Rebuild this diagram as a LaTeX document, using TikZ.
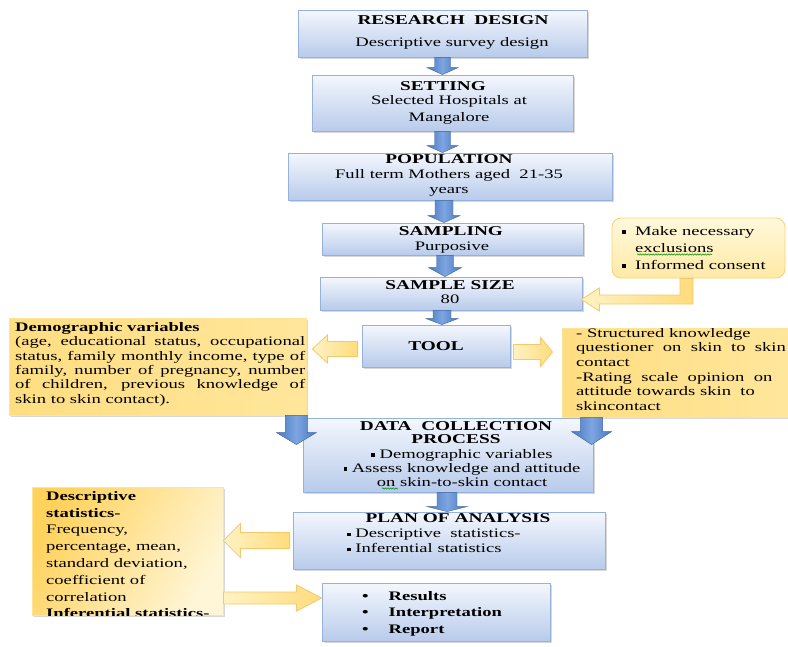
\documentclass[tikz,border=0pt]{standalone}
\usepackage{fontspec}
\setmainfont{Liberation Serif}[FakeStretch=1.43]
\usetikzlibrary{calc,shadows,decorations.pathmorphing}

\definecolor{bTop}{RGB}{244,247,253}
\definecolor{bBot}{RGB}{184,203,235}
\definecolor{bLine}{RGB}{150,178,218}
\definecolor{arB}{RGB}{72,120,190}
\definecolor{arBl}{RGB}{125,165,225}
\definecolor{yA}{RGB}{255,210,92}
\definecolor{yB}{RGB}{255,246,215}
\definecolor{yM}{RGB}{255,222,130}
\definecolor{yM2}{RGB}{255,230,155}
\definecolor{yLine}{RGB}{255,228,150}
\definecolor{yArrA}{RGB}{255,242,195}
\definecolor{yArrB}{RGB}{255,220,125}
\definecolor{yArrLine}{RGB}{245,200,105}
\definecolor{exTop}{RGB}{255,248,220}
\definecolor{exBot}{RGB}{255,234,165}
\definecolor{exLine}{RGB}{250,212,120}

\newcommand\sqb{\raisebox{1.6pt}{\rule{3.6pt}{3.6pt}}}

% vertical block arrow: style, start, end, shaft half, head half, head length
\newcommand\vblock[6]{%
  \path[#1] let \p1=(#2), \p2=(#3) in
   ({\x1-#4},{\y1}) -- ({\x1+#4},{\y1}) -- ({\x1+#4},{\y2+#6}) -- ({\x1+#5},{\y2+#6}) --
   ({\x1},{\y2}) -- ({\x1-#5},{\y2+#6}) -- ({\x1-#4},{\y2+#6}) -- cycle;}
% horizontal block arrow: style, start, end, shaft half, head half, signed head length
\newcommand\hblock[6]{%
  \path[#1] let \p1=(#2), \p2=(#3) in
   ({\x1},{\y1-#4}) -- ({\x2-(#6)},{\y1-#4}) -- ({\x2-(#6)},{\y1-#5}) -- ({\x2},{\y1}) --
   ({\x2-(#6)},{\y1+#5}) -- ({\x2-(#6)},{\y1+#4}) -- ({\x1},{\y1+#4}) -- cycle;}

\begin{document}
\begin{tikzpicture}[x=1pt,y=-1pt,
  font=\fontsize{13}{15}\selectfont,
  shadowed/.style={drop shadow={shadow xshift=2pt,shadow yshift=-2pt,fill=black!30}},
  bluebox/.style={shadowed,draw=bLine,line width=0.8pt,top color=bTop,bottom color=bBot,inner sep=0pt},
  ybox/.style={shadowed,draw=yLine,line width=0.8pt,inner sep=0pt},
  exbox/.style={draw=exLine,line width=0.9pt,rounded corners=9pt,top color=exTop,bottom color=exBot,inner sep=0pt},
  txt/.style={inner sep=0pt,text height=9pt,text depth=2.5pt},
  mtxt/.style={inner sep=0pt},
  head/.style={txt,font=\fontsize{13.5}{15}\selectfont\bfseries},
  barrow/.style={draw=arB!85!black,line width=0.4pt,left color=arB,right color=arB,middle color=arBl},
  yarrow/.style={draw=yArrLine,line width=0.8pt,left color=yArrA,right color=yArrB},
  squig/.style={green!55!black,line width=0.5pt,decorate,decoration={snake,amplitude=0.7pt,segment length=2.6pt}}
]
\fill[white] (0,0) rectangle (788,646);
\useasboundingbox (0,0) rectangle (788,646);

% ---------- blue boxes ----------
\node[bluebox,minimum width=289,minimum height=47] (rd) at (442.5,33.5) {};
\node[bluebox,minimum width=261,minimum height=56] (set) at (442.5,103) {};
\node[bluebox,minimum width=324,minimum height=47] (pop) at (450,176.5) {};
\node[bluebox,minimum width=261,minimum height=32] (samp) at (452.5,239) {};
\node[bluebox,minimum width=262,minimum height=33] (size) at (451,293.5) {};
\node[bluebox,minimum width=148,minimum height=42] (tool) at (436,346) {};
\node[bluebox,minimum width=290,minimum height=74] (dc) at (448,455) {};
\node[bluebox,minimum width=312,minimum height=57] (plan) at (449,540.5) {};
\node[bluebox,minimum width=228,minimum height=58] (res) at (436,612) {};

% ---------- yellow boxes ----------
\node[exbox,minimum width=173,minimum height=60] (excl) at (698.5,248) {};
\node[ybox,left color=yM,right color=yM2,minimum width=297,minimum height=97] (demo) at (157.5,366.5) {};
\node[ybox,left color=yM,right color=yM2,minimum width=228,minimum height=89] (toolr) at (676,372.5) {};
\node[ybox,left color=yA,right color=yB,shading angle=60,minimum width=191,minimum height=128] (desc) at (127.5,551) {};

% ---------- texts in blue boxes ----------
\node[head] (rdh) at (453,21) {RESEARCH\ \ DESIGN};
\node[txt] (rdt) at (452,43) {Descriptive\ survey\ design};
\node[head] (seth) at (443,87) {SETTING};
\node[mtxt,align=center,font=\fontsize{13}{16.5}\selectfont] (sett) at (449,110) {Selected Hospitals at\\Mangalore};
\node[head] (poph) at (449,160) {POPULATION};
\node[mtxt,align=center] (popt) at (449,182.5) {Full term Mothers aged\ \ 21-35\\years};
\node[head] (samph) at (451,232) {SAMPLING};
\node[txt] (sampt) at (452,247) {Purposive};
\node[head] (sizeh) at (450,286) {SAMPLE SIZE};
\node[txt] (sizet) at (450,300) {80};
\node[head] (toolh) at (436,347) {TOOL};
\node[mtxt,align=center,font=\fontsize{13.5}{13.5}\selectfont\bfseries] (dch) at (456,432.5) {DATA\ \ COLLECTION\\PROCESS};
\node[mtxt,align=center,font=\fontsize{13}{14}\selectfont] (dct) at (462,468) {\sqb\ Demographic variables\\\sqb\ Assess knowledge and attitude\\on skin-to-skin contact};
\node[head] (planh) at (458,519) {PLAN OF ANALYSIS};
\node[mtxt,align=left,anchor=west] (plant) at (347,541) {\sqb\ Descriptive\ \ statistics-\\\sqb\ Inferential statistics};
\node[mtxt,align=left,anchor=west,font=\fontsize{13}{16.5}\selectfont\bfseries] (rest) at (362,613.5)
  {\textbullet\hspace{20pt}Results\\\textbullet\hspace{20pt}Interpretation\\\textbullet\hspace{20pt}Report};

% ---------- texts in yellow boxes ----------
\node[mtxt,align=left,anchor=west,font=\fontsize{13}{17}\selectfont] (exclt) at (622,248)
  {\sqb\ \ Make\ necessary\\\phantom{\sqb\ \ }exclusions\\\sqb\ \ Informed consent};
\node[mtxt,anchor=north west,text width=290,align=justify,font=\fontsize{13}{14.4}\selectfont] (demot) at (15,322)
  {\textbf{Demographic variables}\\(age, educational status, occupational\linebreak
   status, family monthly income, type of\linebreak
   family, number of pregnancy, number\linebreak
   of children, previous knowledge of\linebreak
   skin to skin contact).};
\node[mtxt,anchor=north west,align=left,font=\fontsize{13}{14.6}\selectfont] (toolrt) at (576,328)
  {- Structured knowledge\\questioner\ \ on\ \ skin\ \ to\ \ skin\\contact\\-Rating\ \ scale\ \ opinion\ \ on\\attitude towards skin\ \ to\\skincontact};
\begin{scope}
  \clip (desc.north west) rectangle (desc.south east);
  \node[mtxt,anchor=north west,align=left,font=\fontsize{13}{16.8}\selectfont] (desct) at (46,491)
    {\textbf{Descriptive}\\\textbf{statistics-}\\Frequency,\\percentage, mean,\\standard deviation,\\coefficient of\\correlation\\\textbf{Inferential statistics-}};
\end{scope}

% spell-check squiggles
\draw[squig] (637,254.5) -- (712,254.5);
\draw[squig] (382,488.5) -- (398,488.5);

% ---------- blue down arrows ----------
\vblock{barrow}{rd.south}{set.north}{8pt}{15.5pt}{7pt}
\vblock{barrow}{set.south}{pop.north}{8pt}{15.5pt}{7pt}
\vblock{barrow}{$(pop.south)+(-6,0)$}{samp.north}{9pt}{16pt}{7pt}
\vblock{barrow}{$(samp.south)+(-7.5,0)$}{size.north}{8.5pt}{16.5pt}{9pt}
\vblock{barrow}{$(size.south)+(-9,0)$}{tool.north}{9pt}{16pt}{6pt}
\vblock{barrow}{$(dc.south)+(-1,0)$}{plan.north}{10pt}{20pt}{5pt}
\vblock{barrow}{$(demo.south east)+(-10,0)$}{$(dc.north west)+(0,27)$}{11pt}{20pt}{12pt}
\vblock{barrow}{$(toolr.south west)+(30,0)$}{$(dc.north east)+(0,27)$}{11pt}{20pt}{13pt}

% ---------- yellow arrows ----------
\hblock{yarrow}{$(tool.west)+(-4,3)$}{$(demo.east)+(6,0)$}{7.5pt}{14pt}{-15pt}
\hblock{yarrow}{$(tool.east)+(3,6)$}{$(toolr.west)+(-9,0)$}{7.5pt}{14.5pt}{12pt}
\hblock{yarrow}{$(plan.west)+(-3,0)$}{desc.east}{8pt}{17pt}{-17pt}
\hblock{yarrow}{$(desc.east)+(0,47)$}{res.west}{6pt}{13pt}{25pt}

\coordinate (lt) at ($(excl.south)+(-12,0)$);
\coordinate (lh) at ($(size.east)+(-1,6)$);
\path[yarrow] let \p1=(lt), \p2=(lh) in
  ({\x1-6.5pt},{\y1}) -- ({\x1+6.5pt},{\y1}) -- ({\x1+6.5pt},{\y2-4.5pt}) -- ({\x2+18pt},{\y2-4.5pt}) --
  ({\x2+18pt},{\y2-11.5pt}) -- ({\x2},{\y2}) -- ({\x2+18pt},{\y2+11.5pt}) -- ({\x2+18pt},{\y2+4.5pt}) --
  ({\x1-6.5pt},{\y2+4.5pt}) -- cycle;
\end{tikzpicture}
\end{document}
